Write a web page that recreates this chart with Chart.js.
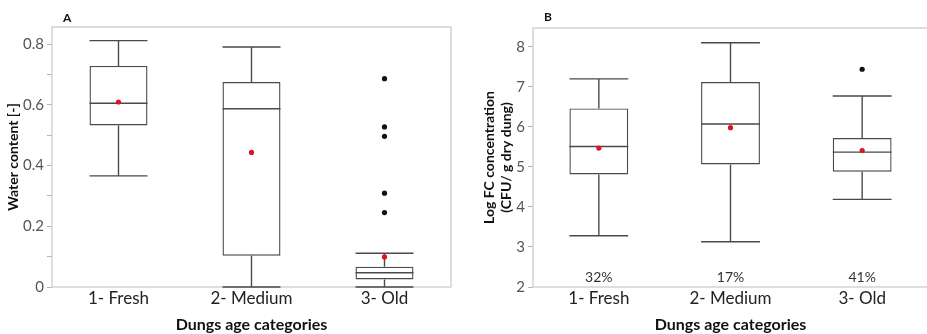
<!DOCTYPE html>
<html><head><meta charset="utf-8">
<script src="https://cdn.jsdelivr.net/npm/chart.js@4"></script>
<style>
html,body{margin:0;padding:0;background:#fff;overflow:hidden;width:927px;height:334px;}
#wrap{position:relative;width:927px;height:334px;overflow:hidden;background:#fff;}
canvas{position:absolute;top:0;}
#cA{left:0;}
#cB{left:465px;}
.pl{position:absolute;font:bold 12px Lato,'Liberation Sans',sans-serif;color:#111;}
</style></head><body>
<div id="wrap">
<canvas id="cA" width="465" height="334"></canvas>
<canvas id="cB" width="470" height="334"></canvas>
<div class="pl" style="left:63px;top:10px">A</div>
<div class="pl" style="left:544px;top:9px">B</div>
</div>
<script>
// ---- data ----
const categories = ['1- Fresh', '2- Medium', '3- Old'];

// Panel A: water content [-]
const waterMin    = [0.366, 0.000, 0.000];
const waterQ1     = [0.532, 0.103, 0.025];
const waterMedian = [0.605, 0.587, 0.047];
const waterQ3     = [0.728, 0.675, 0.067];
const waterMax    = [0.811, 0.790, 0.111];
const waterMean   = [0.609, 0.443, 0.099];
const waterOutliers = [[], [], [0.686, 0.527, 0.496, 0.309, 0.245]];

// Panel B: log FC concentration (CFU/ g dry dung)
const fcMin    = [3.28, 3.13, 4.19];
const fcQ1     = [4.81, 5.06, 4.88];
const fcMedian = [5.51, 6.07, 5.37];
const fcQ3     = [6.46, 7.12, 5.72];
const fcMax    = [7.20, 8.10, 6.77];
const fcMean   = [5.47, 5.98, 5.41];
const fcOutliers = [[], [], [7.44]];
const fcShare  = ['32%', '17%', '41%'];

const waterTicks = [0, 0.2, 0.4, 0.6, 0.8];
const fcTicks = [2, 3, 4, 5, 6, 7, 8];

// ---- styling ----
const FONT = "Lato, 'Open Sans', 'Liberation Sans', sans-serif";
Chart.defaults.font.family = FONT;
const LINE = '#4a4a4a';

const boxPlugin = {
  id: 'boxWhiskers',
  beforeDatasetsDraw(chart) {
    const a = chart.chartArea, ctx = chart.ctx;
    ctx.save();
    ctx.strokeStyle = '#c9c9c9';
    ctx.lineWidth = 1.2;
    ctx.strokeRect(a.left, a.top, a.right - a.left, a.bottom - a.top);
    ctx.restore();
  },
  afterDatasetDraw(chart, args, opts) {
    if (args.index !== 0) return;
    const y = chart.scales.y, ctx = chart.ctx;
    ctx.save();
    ctx.strokeStyle = LINE;
    ctx.lineWidth = 1.4;
    args.meta.data.forEach((bar, i) => {
      const x = bar.x, hw = bar.width / 2;
      const pMin = y.getPixelForValue(opts.min[i]);
      const pMax = y.getPixelForValue(opts.max[i]);
      const pQ1 = y.getPixelForValue(opts.q1[i]);
      const pQ3 = y.getPixelForValue(opts.q3[i]);
      const pMed = y.getPixelForValue(opts.median[i]);
      ctx.beginPath();
      ctx.moveTo(x, pQ3); ctx.lineTo(x, pMax);
      ctx.moveTo(x - hw, pMax); ctx.lineTo(x + hw, pMax);
      ctx.moveTo(x, pQ1); ctx.lineTo(x, pMin);
      ctx.moveTo(x - hw, pMin); ctx.lineTo(x + hw, pMin);
      ctx.moveTo(x - hw, pMed); ctx.lineTo(x + hw, pMed);
      ctx.stroke();
    });
    if (opts.labels) {
      ctx.fillStyle = '#333';
      ctx.font = '14px ' + FONT;
      ctx.textAlign = 'center';
      ctx.textBaseline = 'middle';
      args.meta.data.forEach((bar, i) => {
        ctx.fillText(opts.labels[i], bar.x, chart.chartArea.bottom - 10);
      });
    }
    ctx.restore();
  }
};

function outlierPoints(list) {
  const pts = [];
  list.forEach((vals, i) => vals.forEach(v => pts.push({x: categories[i], y: v})));
  return pts;
}

function makeChart(id, cfg) {
  return new Chart(document.getElementById(id), {
    type: 'bar',
    data: {
      labels: categories,
      datasets: [
        {
          type: 'bar',
          data: cfg.q1.map((v, i) => [v, cfg.q3[i]]),
          backgroundColor: '#ffffff',
          borderColor: LINE,
          borderWidth: 1.4,
          borderSkipped: false,
          barPercentage: cfg.barPct,
          categoryPercentage: 1,
          order: 3
        },
        {
          type: 'line',
          data: cfg.mean,
          showLine: false,
          pointRadius: 2.6,
          pointBorderWidth: 0,
          pointBackgroundColor: '#e0141e',
          order: 1
        },
        {
          type: 'line',
          data: outlierPoints(cfg.outliers),
          showLine: false,
          pointRadius: 2.6,
          pointBorderWidth: 0,
          pointBackgroundColor: '#111',
          order: 2
        }
      ]
    },
    plugins: [boxPlugin],
    options: {
      responsive: false,
      animation: false,
      events: [],
      layout: { padding: cfg.padding },
      plugins: {
        legend: { display: false },
        tooltip: { enabled: false },
        boxWhiskers: { min: cfg.min, q1: cfg.q1, median: cfg.median, q3: cfg.q3, max: cfg.max, labels: cfg.labels }
      },
      scales: {
        x: {
          type: 'category',
          offset: true,
          grid: { display: false, drawTicks: false, tickLength: 0 },
          border: { display: false },
          ticks: { font: { size: 17 }, color: '#222', padding: 1, maxRotation: 0 },
          title: { display: true, text: 'Dungs age categories', font: { size: 16, weight: 'bold' }, color: '#111', padding: { top: 0, bottom: 0 } },
          afterFit(s) { s.height = 47; }
        },
        y: {
          min: cfg.yMin,
          max: cfg.yMax,
          ticks: {
            stepSize: cfg.step,
            font: { size: 15 },
            color: '#555',
            padding: 3,
            autoSkip: false,
            callback: cfg.tickCb
          },
          grid: { drawOnChartArea: false, drawTicks: true, tickLength: 5, color: '#b5b5b5' },
          border: { display: false },
          title: { display: true, text: cfg.yTitle, font: { size: 14, weight: 'bold' }, color: '#111', padding: { top: cfg.titlePad, bottom: 0 } },
          afterBuildTicks(s) { s.ticks = s.ticks.filter(t => t.value <= cfg.tickTop + 1e-6); },
          afterFit(s) { s.width = cfg.yWidth; }
        }
      }
    }
  });
}

makeChart('cA', {
  q1: waterQ1, q3: waterQ3, min: waterMin, max: waterMax, median: waterMedian,
  mean: waterMean, outliers: waterOutliers, labels: null,
  barPct: 0.436,
  padding: { left: 0, right: 14, top: 27, bottom: 0 },
  yMin: 0, yMax: 0.856, step: 0.1, tickTop: 0.8,
  tickCb: (v) => {
    const r = Math.round(v * 10) / 10;
    return waterTicks.some(t => Math.abs(t - r) < 1e-6) ? (r === 0 ? '0' : r.toFixed(1)) : '';
  },
  yTitle: 'Water content [-]', titlePad: 5, yWidth: 52
});

makeChart('cB', {
  q1: fcQ1, q3: fcQ3, min: fcMin, max: fcMax, median: fcMedian,
  mean: fcMean, outliers: fcOutliers, labels: fcShare,
  barPct: 0.447,
  padding: { left: 0, right: 7, top: 28, bottom: 0 },
  yMin: 2, yMax: 8.47, step: 1, tickTop: 8,
  tickCb: (v) => fcTicks.includes(Math.round(v)) && Math.abs(v - Math.round(v)) < 1e-6 ? String(Math.round(v)) : '',
  yTitle: ['Log FC concentration', '(CFU/ g dry dung)'], titlePad: 16, yWidth: 68
});
</script>
</body></html>
